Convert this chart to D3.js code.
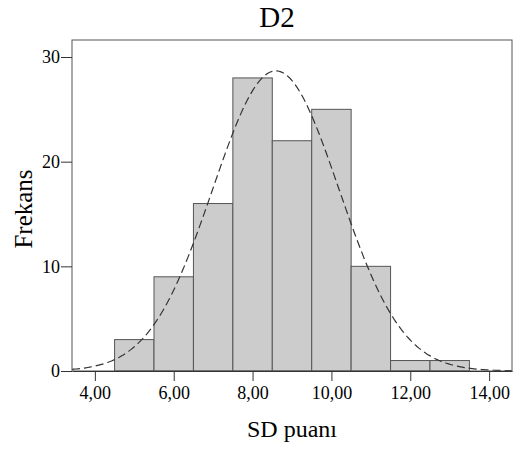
<!DOCTYPE html>
<html>
<head>
<meta charset="utf-8">
<script src="https://cdn.jsdelivr.net/npm/d3@7"></script>
<style>
  body { margin: 0; background: #fff; }
</style>
</head>
<body>
<div id="chart"></div>
<script>
// histogram bins (lower edge) and counts
const binStarts = [4.5, 5.5, 6.5, 7.5, 8.5, 9.5, 10.5, 11.5, 12.5];
const binWidth = 1;
const counts = [3, 9, 16, 28, 22, 25, 10, 1, 1];
const xTicks = [4, 6, 8, 10, 12, 14];
const yTicks = [0, 10, 20, 30];
const curveMean = 8.59;
const curveSd = 1.6;

const serif = "'Liberation Serif', serif";
const width = 522, height = 449;
const margin = { top: 40, right: 10, bottom: 78, left: 72 };

const svg = d3.select("#chart").append("svg")
    .attr("width", width)
    .attr("height", height);

const x = d3.scaleLinear()
    .domain([3.42, 14.58])
    .range([margin.left, width - margin.right]);

const y = d3.scaleLinear()
    .domain([0, 30])
    .range([371, 57]);

const N = d3.sum(counts);

// bars
svg.append("g").selectAll("rect")
    .data(counts)
    .enter()
    .append("rect")
    .attr("x", (d, i) => x(binStarts[i]))
    .attr("y", d => y(d))
    .attr("width", (d, i) => x(binStarts[i] + binWidth) - x(binStarts[i]))
    .attr("height", d => y(0) - y(d))
    .attr("fill", "#cccccc")
    .attr("stroke", "#555")
    .attr("stroke-width", 1);

// normal curve
const xs = d3.range(3.42, 14.58, 0.05);
const pdf = v => N * binWidth / (curveSd * Math.sqrt(2 * Math.PI)) * Math.exp(-0.5 * ((v - curveMean) / curveSd) ** 2);
svg.append("path")
    .datum(xs)
    .attr("d", d3.line().x(d => x(d)).y(d => y(pdf(d))))
    .attr("fill", "none")
    .attr("stroke", "#333")
    .attr("stroke-width", 1.2)
    .attr("stroke-dasharray", "8,4");

// frame
svg.append("rect")
    .attr("x", margin.left)
    .attr("y", margin.top)
    .attr("width", width - margin.right - margin.left)
    .attr("height", y(0) - margin.top)
    .attr("fill", "none")
    .attr("stroke", "#555")
    .attr("stroke-width", 1);

// x axis
const xAxis = svg.append("g")
    .attr("transform", `translate(0, ${y(0)})`)
    .call(d3.axisBottom(x)
        .tickValues(xTicks)
        .tickSize(10)
        .tickSizeOuter(0)
        .tickFormat(d => d3.format(".2f")(d).replace(".", ",")));
xAxis.select(".domain").attr("stroke", "#333");
xAxis.selectAll(".tick line").attr("stroke", "#333");
xAxis.selectAll(".tick text")
    .attr("dy", 0)
    .attr("y", 28)
    .attr("fill", "#000")
    .style("font-family", serif)
    .style("font-size", "18px");

// y axis
const yAxis = svg.append("g")
    .attr("transform", `translate(${margin.left}, 0)`)
    .call(d3.axisLeft(y)
        .tickValues(yTicks)
        .tickSize(11)
        .tickSizeOuter(0)
        .tickFormat(d3.format("d")));
yAxis.select(".domain").remove();
yAxis.selectAll(".tick line").attr("stroke", "#333");
yAxis.selectAll(".tick text")
    .attr("x", -12)
    .attr("fill", "#000")
    .style("font-family", serif)
    .style("font-size", "18px");

// title and labels
svg.append("text")
    .attr("x", 277)
    .attr("y", 27)
    .attr("text-anchor", "middle")
    .style("font-family", serif)
    .style("font-size", "29px")
    .text("D2");

svg.append("text")
    .attr("x", 292)
    .attr("y", 437)
    .attr("text-anchor", "middle")
    .style("font-family", serif)
    .style("font-size", "24px")
    .text("SD puanı");

svg.append("text")
    .attr("transform", "translate(32, 209) rotate(-90)")
    .attr("text-anchor", "middle")
    .style("font-family", serif)
    .style("font-size", "25px")
    .text("Frekans");
</script>
</body>
</html>
